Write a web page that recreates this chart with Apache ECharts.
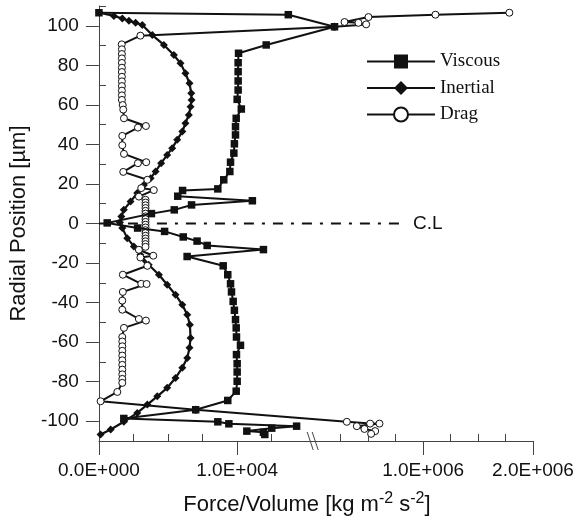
<!DOCTYPE html>
<html>
<head>
<meta charset="utf-8">
<script src="https://cdn.jsdelivr.net/npm/echarts@6/dist/echarts.min.js"></script>
<style>
  html, body { margin: 0; padding: 0; background: #fff; }
  #chart { width: 579px; height: 528px; }
</style>
</head>
<body>
<div id="chart"></div>
<script>
// radial position [um] / force per volume [kg m^-2 s^-2]
const viscousPos = [106.6, 105.6, 99.5, 90.3, 86.1, 81.3, 76.8, 72.1, 67.5, 62.8, 57.9, 53.2, 49.0, 44.8, 40.3, 35.6, 31.0, 26.3, 22.1, 17.5,
  16.7, 13.8, 11.5, 9.4, 6.9, 5.0, 0.3, -2.3, -4.0, -6.8, -8.9, -11.1, -13.2, -16.7, -21.4, -25.9, -30.5, -34.6, -39.4, -43.9,
  -48.6, -52.8, -57.4, -61.6, -66.3, -70.9, -75.1, -79.8, -84.8, -89.5, -94.2, -98.6, -100.3, -101.3, -102.5, -103.5, -105.0, -105.6, -106.7]
const viscousForce = [0, 1.37e4, 1.94e5, 1.21e4, 1.01e4, 1.007e4, 1.007e4, 1.007e4, 1.007e4, 1.0e4, 1.03e4, 9.93e3, 9.88e3, 9.88e3, 9.8e3, 9.76e3, 9.52e3, 9.47e3, 9.03e3, 8.6e3,
  6.05e3, 5.7e3, 1.11e4, 6.7e3, 5.45e3, 3.8e3, 600, 2.8e3, 4.75e3, 6.1e3, 7.1e3, 7.83e3, 1.19e4, 6.38e3, 8.99e3, 9.32e3, 9.52e3, 9.59e3, 9.71e3, 9.8e3,
  9.88e3, 9.93e3, 9.95e3, 1.024e4, 9.95e3, 1.0e4, 1.0e4, 1.0e4, 9.93e3, 9.32e3, 7.0e3, 1.8e3, 8.6e3, 9.4e3, 1.43e4, 1.25e4, 1.07e4, 1.19e4, 1.2e4]

const inertialPos = [106.6, 105.0, 103.7, 102.5, 101.5, 100.4, 95.3, 90.3, 85.2, 81.0, 76.0, 70.9, 65.9, 62.5, 59.1, 54.9, 50.7, 46.5, 42.3, 38.1,
  34.7, 30.5, 26.3, 22.9, 19.5, 15.4, 11.1, 6.9, 3.5, 0.5, -2.3, -7.4, -11.6, -15.8, -20.9, -25.9, -31.0, -36.0, -41.1, -46.1,
  -51.2, -57.9, -62.9, -68.0, -73.0, -78.1, -83.1, -87.4, -91.6, -95.8, -100.3, -104.2, -106.7]
const inertialForce = [50, 1.08e3, 1.69e3, 2.17e3, 2.65e3, 3.14e3, 3.86e3, 4.7e3, 5.42e3, 5.9e3, 6.26e3, 6.55e3, 6.68e3, 6.7e3, 6.63e3, 6.5e3, 6.26e3, 6.03e3, 5.66e3, 5.3e3,
  4.94e3, 4.5e3, 4.1e3, 3.74e3, 3.25e3, 2.77e3, 2.29e3, 1.8e3, 1.62e3, 1.52e3, 1.69e3, 2.05e3, 2.53e3, 3.0e3, 3.6e3, 4.34e3, 4.94e3, 5.54e3, 6.03e3, 6.39e3,
  6.58e3, 6.63e3, 6.55e3, 6.39e3, 6.03e3, 5.54e3, 4.94e3, 4.22e3, 3.5e3, 2.77e3, 1.8e3, 850, 120]

const dragPos = [106.6, 105.6, 104.4, 101.9, 101.5, 100.7, 99.5, 95.0, 90.6, 88.1, 85.7, 83.5, 81.2, 78.8, 76.6, 74.2, 71.9, 69.5, 67.2, 64.8,
  62.5, 59.9, 57.6, 53.2, 49.3, 48.5, 44.3, 39.6, 35.2, 31.0, 30.5, 26.1, 22.1, 17.9, 16.9, 13.6,
  12.0, 10.6, 9.2, 7.8, 6.4, 5.0, 3.6, 2.2, 0.8, -0.6, -2.0, -3.4, -4.8, -6.2, -7.6, -9.0, -10.4, -11.8,
  -13.3, -16.3, -17.2, -21.4, -25.9, -30.5, -30.6, -34.6, -39.0, -43.6, -48.3, -49.1, -52.8,
  -57.4, -59.7, -62.1, -64.4, -66.8, -69.2, -71.5, -73.9, -76.3, -78.6, -80.6, -85.2, -89.9, -94.2,
  -100.3, -101.2, -101.2, -102.5, -103.9, -105.0, -106.4]
const dragForce = [1.785e6, 1.112e6, 5.03e5, 2.85e5, 4.12e5, 4.82e5, 1.94e5, 3.0e3, 1.65e3, 1.66e3, 1.66e3, 1.66e3, 1.66e3, 1.66e3, 1.66e3, 1.66e3, 1.66e3, 1.66e3, 1.66e3, 1.66e3,
  1.66e3, 1.72e3, 1.76e3, 1.81e3, 3.4e3, 2.82e3, 1.69e3, 1.69e3, 1.81e3, 3.42e3, 2.82e3, 1.76e3, 3.5e3, 3.06e3, 3.97e3, 2.89e3,
  3.37e3, 3.37e3, 3.37e3, 3.37e3, 3.37e3, 3.37e3, 3.37e3, 3.37e3, 3.37e3, 3.37e3, 3.37e3, 3.37e3, 3.37e3, 3.37e3, 3.37e3, 3.37e3, 3.37e3, 3.37e3,
  2.89e3, 3.93e3, 3.0e3, 3.5e3, 1.73e3, 3.06e3, 3.45e3, 1.73e3, 1.69e3, 1.69e3, 2.89e3, 3.4e3, 1.81e3,
  1.69e3, 1.69e3, 1.69e3, 1.69e3, 1.69e3, 1.69e3, 1.69e3, 1.69e3, 1.69e3, 1.69e3, 1.69e3, 1.33e3, 120, 7.0e3,
  3.06e5, 5.18e5, 6.03e5, 3.97e5, 4.66e5, 5.64e5, 5.27e5]

// axis ticks (real force values) and centre line extent
const forceMajor = [0, 1e4, 1e6, 2e6]
const forceMinor = [2500, 5000, 7500, 12500, 2.5e5, 5e5, 7.5e5, 1.25e6, 1.5e6, 1.75e6]
const posMajor = [-100, -80, -60, -40, -20, 0, 20, 40, 60, 80, 100]
const posMinor = [-90, -70, -50, -30, -10, 10, 30, 50, 70, 90, 110]
const clEnd = 8e5

// broken force axis: 0..1.55e4 linear, then 0..2e6 on a compressed scale
const BREAK_AT = 1.55e4
const RIGHT_SCALE = 0.795 // axis units per 1e6 on the right part
const toAxis = f => f <= BREAK_AT ? f / 1e4 : BREAK_AT / 1e4 + f / 1e6 * RIGHT_SCALE

const sciLabel = f => {
  if (f === 0) return '0.0E+000'
  const e = Math.floor(Math.log10(f))
  return (f / Math.pow(10, e)).toFixed(1) + 'E+' + String(e).padStart(3, '0')
}
const pairs = (pos, force) => pos.map((p, i) => [toAxis(force[i]), p])

const axisColor = '#444'
const ink = '#111'
const majorAxis = forceMajor.map(toAxis)

const chart = echarts.init(document.getElementById('chart'))
chart.setOption({
  animation: false,
  grid: { left: 98, right: 46, top: 6, bottom: 87 },
  xAxis: [{
    type: 'value', min: 0, max: toAxis(2e6),
    name: '{n|Force/Volume [kg m}{s|-2}{n| s}{s|-2}{n|]}',
    nameLocation: 'middle', nameGap: 50,
    nameTextStyle: {
      padding: [0, 18, 0, 0],
      rich: {
        n: { fontFamily: 'Liberation Sans', fontSize: 22, color: ink },
        s: { fontFamily: 'Liberation Sans', fontSize: 16, color: ink, verticalAlign: 'top', padding: [0, 0, 11, 0] }
      }
    },
    splitLine: { show: false },
    axisLine: { onZero: false, lineStyle: { color: axisColor, width: 1 } },
    axisTick: { customValues: majorAxis, length: 14, lineStyle: { color: axisColor } },
    axisLabel: {
      customValues: majorAxis, margin: 20, color: ink, fontFamily: 'Liberation Sans', fontSize: 19,
      formatter: v => sciLabel(forceMajor[majorAxis.findIndex(a => Math.abs(a - v) < 1e-6)])
    }
  }, {
    type: 'value', min: 0, max: toAxis(2e6), position: 'bottom',
    splitLine: { show: false },
    axisLine: { show: false, onZero: false },
    axisTick: { customValues: forceMinor.map(toAxis), inside: true, length: 7, lineStyle: { color: axisColor } },
    axisLabel: { show: false }
  }],
  yAxis: [{
    type: 'value', min: -110, max: 110,
    name: 'Radial Position [µm]', nameLocation: 'middle', nameGap: 64,
    nameTextStyle: { fontFamily: 'Liberation Sans', fontSize: 22, color: ink },
    splitLine: { show: false },
    axisLine: { show: true, onZero: false, lineStyle: { color: axisColor, width: 1 } },
    axisTick: { customValues: posMajor, length: 13, lineStyle: { color: axisColor } },
    axisLabel: { customValues: posMajor, margin: 20, color: ink, fontFamily: 'Liberation Sans', fontSize: 19 }
  }, {
    type: 'value', min: -110, max: 110, position: 'left',
    splitLine: { show: false },
    axisLine: { show: false, onZero: false },
    axisTick: { customValues: posMinor, inside: true, length: 7, lineStyle: { color: axisColor } },
    axisLabel: { show: false }
  }],
  legend: {
    data: ['Viscous', 'Inertial', 'Drag'],
    orient: 'vertical', left: 361, top: 47,
    itemWidth: 68, itemHeight: 17.5, itemGap: 7.5,
    textStyle: { fontFamily: 'Liberation Serif', fontSize: 19, color: ink, lineHeight: 19 }
  },
  series: [{
    name: 'C.L', type: 'line', data: [[toAxis(0), 0], [toAxis(clEnd), 0]],
    symbol: 'none', z: 1, silent: true,
    lineStyle: { color: ink, width: 2, type: [10, 8, 3, 8] },
    endLabel: { show: true, formatter: 'C.L', distance: 12, color: ink, fontFamily: 'Liberation Sans', fontSize: 19 }
  }, {
    name: 'Inertial', type: 'line', data: pairs(inertialPos, inertialForce), z: 2,
    symbol: 'diamond', symbolSize: 8,
    lineStyle: { color: ink, width: 2.2 }, itemStyle: { color: ink }
  }, {
    name: 'Drag', type: 'line', data: pairs(dragPos, dragForce), z: 3,
    symbol: 'circle', symbolSize: 7,
    lineStyle: { color: ink, width: 2 }, itemStyle: { color: '#fff', borderColor: ink, borderWidth: 1 }
  }, {
    name: 'Viscous', type: 'line', data: pairs(viscousPos, viscousForce), z: 4,
    symbol: 'rect', symbolSize: 7.5,
    lineStyle: { color: ink, width: 2 }, itemStyle: { color: ink }
  }, {
    // the "\\" break mark on the force axis
    type: 'custom', silent: true, z: 10, clip: false,
    data: [[toAxis(BREAK_AT), -110]],
    renderItem: (params, api) => {
      const p = api.coord([api.value(0), api.value(1)])
      const seg = dx => ({ type: 'line', shape: { x1: p[0] + dx - 3, y1: p[1] - 9, x2: p[0] + dx + 3, y2: p[1] + 9 },
        style: { stroke: axisColor, lineWidth: 1 } })
      return { type: 'group', children: [seg(-3), seg(2)] }
    }
  }]
})
</script>
</body>
</html>
